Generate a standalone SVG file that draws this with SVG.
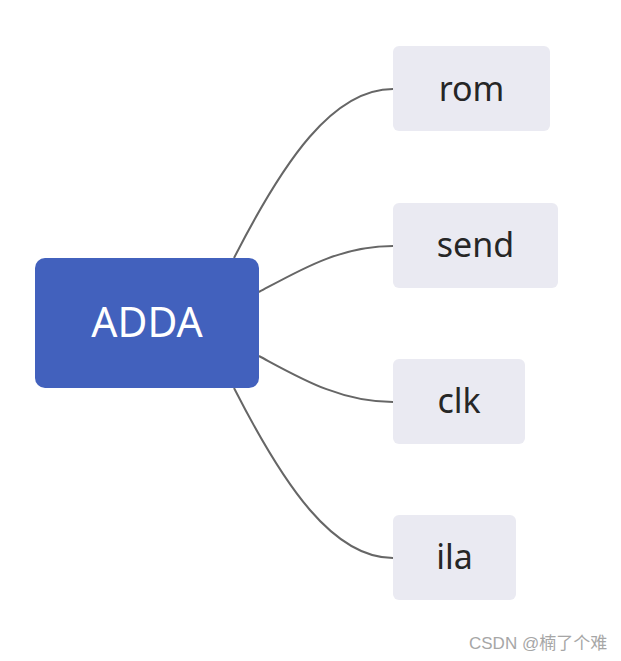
<svg xmlns="http://www.w3.org/2000/svg" width="621" height="661" viewBox="0 0 621 661">
<style>
.root{fill:#4261bd}
.child{fill:#eaeaf2}
.rt{font-family:"Noto Sans","Open Sans",sans-serif;font-size:41px;fill:#ffffff;text-anchor:middle}
.ct{font-family:"Noto Sans","Open Sans",sans-serif;font-size:34px;fill:#262626;text-anchor:middle}
.conn path{fill:none;stroke:#666666;stroke-width:2}
.wm{font-family:"Liberation Sans","Noto Sans CJK SC",sans-serif;font-size:17px;fill:#a6a6a6}
</style>
<rect width="621" height="661" fill="#ffffff"/>
<g id="connectors" class="conn">
<path d="M234,258 C284,160 333,89 393,89"/>
<path d="M259,292 C300,270 340,246 393,246"/>
<path d="M259,356 C300,378 340,402 393,402"/>
<path d="M234,388 C284,486 333,558 393,558"/>
</g>
<g id="node-root">
<rect class="root" x="35" y="258" width="224" height="130" rx="10"/>
<text class="rt" x="147" y="337">ADDA</text>
</g>
<g id="node-rom">
<rect class="child" x="393" y="46" width="157" height="85" rx="6"/>
<text class="ct" x="471.5" y="101">rom</text>
</g>
<g id="node-send">
<rect class="child" x="393" y="203" width="165" height="85" rx="6"/>
<text class="ct" x="475.5" y="257">send</text>
</g>
<g id="node-clk">
<rect class="child" x="393" y="359" width="132" height="85" rx="6"/>
<text class="ct" x="459" y="413">clk</text>
</g>
<g id="node-ila">
<rect class="child" x="393" y="515" width="123" height="85" rx="6"/>
<text class="ct" x="454.5" y="569">ila</text>
</g>
<text class="wm" x="469" y="649">CSDN @楠了个难</text>
</svg>
